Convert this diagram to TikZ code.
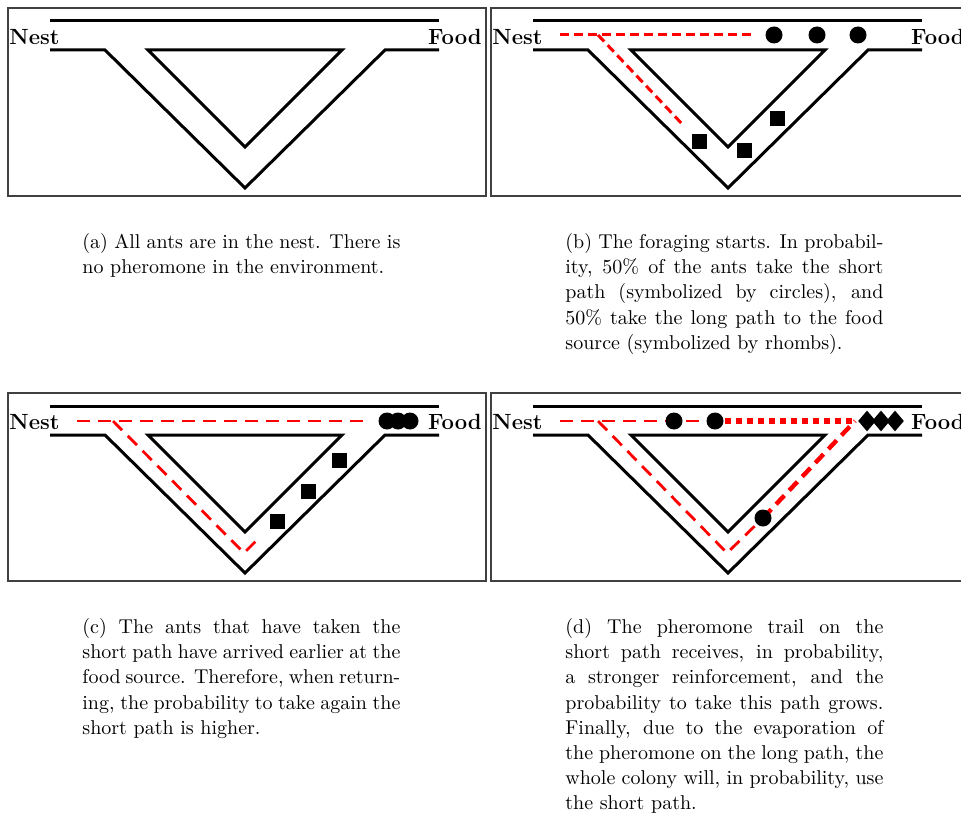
\documentclass[tikz,border=0pt]{standalone}
\usetikzlibrary{shapes.geometric}
\newlength\capw
\setlength\capw{159pt}
\newcommand\jl[1]{\makebox[\capw][s]{#1}\\}
\newcommand\roadway{%
  \draw[frame] (8,8) rectangle (486,196);
  \draw[road] (50,21) -- (439,21);
  \draw[road] (50,50) -- (105,50) -- (245,188) -- (385,50) -- (439,50);
  \draw[road] (148,50) -- (342,50) -- (245,147) -- cycle;
}
\tikzset{
  road/.style={line width=1.5pt, line join=miter},
  frame/.style={draw=black!75, line width=0.75pt},
  antc/.style={circle, fill=black, inner sep=0pt, minimum size=8.5pt},
  ants/.style={rectangle, fill=black, inner sep=0pt, minimum size=7.5pt},
  antd/.style={diamond, fill=black, inner sep=0pt, minimum width=9pt, minimum height=10.5pt},
  trailb/.style={red, line width=1.5pt, dash pattern=on 4.5pt off 2.5pt},
  trailc/.style={red, line width=1.4pt, dash pattern=on 6.5pt off 4pt},
  trailthick/.style={red, line width=2.2pt, dash pattern=on 6pt off 3.5pt},
  traildot/.style={red, line width=3pt, dash pattern=on 3pt off 2.5pt},
  place/.style={font=\fontsize{11}{13}\selectfont\bfseries, inner sep=0pt},
  caption/.style={anchor=north west, inner sep=0pt, align=left, font=\fontsize{10}{12.6}\selectfont}
}
\begin{document}
\begin{tikzpicture}[x=0.5pt,y=-0.5pt]
\useasboundingbox (0,0) rectangle (961,812);
% ---- panel (a)
\begin{scope}
  \roadway
  \node[place, anchor=west] (nestA) at (9,37) {Nest};
  \node[place, anchor=east] (foodA) at (482,37) {Food};
\end{scope}
% ---- panel (b)
\begin{scope}[shift={(483,0)}]
  \roadway
  \node[place, anchor=west] (nestB) at (9,37) {Nest};
  \node[place, anchor=east] (foodB) at (482,37) {Food};
  \coordinate (b0) at (77,35);
  \coordinate (b1) at (272,35);
  \coordinate (b2) at (115,35);
  \coordinate (b3) at (201,126);
  \draw[trailb] (b0) -- (b1);
  \draw[trailb] (b2) -- (b3);
  \node[antc] (bc1) at (291,35) {};
  \node[antc] (bc2) at (334,35) {};
  \node[antc] (bc3) at (375,35) {};
  \node[ants] (bs1) at (216,142) {};
  \node[ants] (bs2) at (261,151) {};
  \node[ants] (bs3) at (294,119) {};
\end{scope}
% ---- panel (c)
\begin{scope}[shift={(0,385)}]
  \roadway
  \node[place, anchor=west] (nestC) at (9,37) {Nest};
  \node[place, anchor=east] (foodC) at (482,37) {Food};
  \coordinate (c0) at (77,36);
  \coordinate (c1) at (364,36);
  \coordinate (c2) at (113,36);
  \coordinate (c3) at (244,168);
  \coordinate (c4) at (259,153);
  \draw[trailc] (c0) -- (c1);
  \draw[trailc] (c2) -- (c3) -- (c4);
  \node[antc] (cc1) at (387,36) {};
  \node[antc] (cc2) at (398,36) {};
  \node[antc] (cc3) at (410,36) {};
  \node[ants] (cs1) at (277,136) {};
  \node[ants] (cs2) at (308,106) {};
  \node[ants] (cs3) at (339,75) {};
\end{scope}
% ---- panel (d)
\begin{scope}[shift={(483,385)}]
  \roadway
  \node[place, anchor=west] (nestD) at (9,37) {Nest};
  \node[place, anchor=east] (foodD) at (482,37) {Food};
  \coordinate (d0) at (77,36);
  \coordinate (d1) at (242,36);
  \coordinate (d2) at (115,36);
  \coordinate (d3) at (244,168);
  \coordinate (d4) at (280,133);
  \coordinate (d5) at (372,36);
  \draw[trailc] (d0) -- (d1);
  \draw[trailc] (d2) -- (d3) -- (d4);
  \draw[traildot] (d1) -- (d5);
  \draw[trailthick] (d4) -- (d5);
  \node[antc] (dc1) at (191,36) {};
  \node[antc] (dc2) at (232,36) {};
  \node[antc] (dc3) at (d4) {};
  \node[antd] (dd1) at (384,36) {};
  \node[antd] (dd2) at (398,36) {};
  \node[antd] (dd3) at (412,36) {};
\end{scope}
% ---- captions
\node[caption] (capA) at (82,233) {%
  \jl{(a) All ants are in the nest. There is}
  no pheromone in the environment.};
\node[caption] (capB) at (565,233) {%
  \jl{(b) The foraging starts. In probabil-}
  \jl{ity, 50\% of the ants take the short}
  \jl{path (symbolized by circles), and}
  \jl{50\% take the long path to the food}
  source (symbolized by rhombs).};
\node[caption] (capC) at (82,618) {%
  \jl{(c) The ants that have taken the}
  \jl{short path have arrived earlier at the}
  \jl{food source. Therefore, when return-}
  \jl{ing, the probability to take again the}
  short path is higher.};
\node[caption] (capD) at (565,618) {%
  \jl{(d) The pheromone trail on the}
  \jl{short path receives, in probability,}
  \jl{a stronger reinforcement, and the}
  \jl{probability to take this path grows.}
  \jl{Finally, due to the evaporation of}
  \jl{the pheromone on the long path, the}
  \jl{whole colony will, in probability, use}
  the short path.};
\end{tikzpicture}
\end{document}
